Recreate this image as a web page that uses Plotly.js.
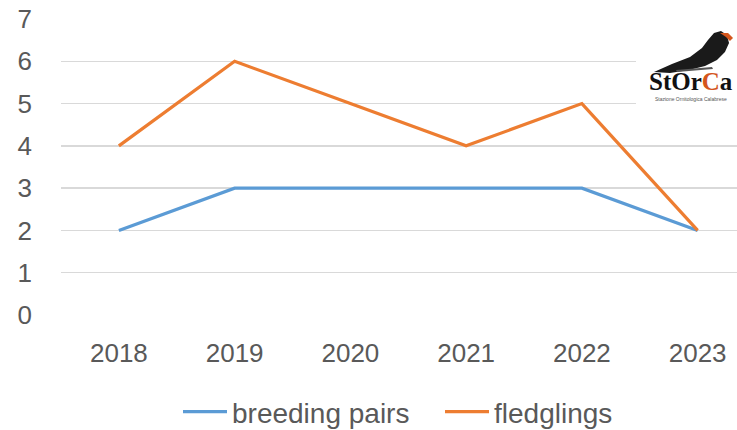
<!DOCTYPE html>
<html>
<head>
<meta charset="utf-8">
<script src="https://cdn.plot.ly/plotly-3.0.1.min.js"></script>
<style>html,body{margin:0;padding:0;background:#fff}#chart{width:737px;height:430px}</style>
</head>
<body>
<div id="chart"></div>
<script>
const years = ['2018', '2019', '2020', '2021', '2022', '2023'];
const breedingPairs = [2, 3, 3, 3, 3, 2];
const fledglings = [4, 6, 5, 4, 5, 2];
const seriesNames = ['breeding pairs', 'fledglings'];

const W = 737, H = 430, L = 61, R = 0, T = 19, B = 115;
const pw = W - L - R, ph = H - T - B;
const px = x => (x - L) / pw;
const py = y => (H - B - y) / ph;
function path(pts) {
  return 'M' + pts.map(p => px(p[0]).toFixed(4) + ',' + py(p[1]).toFixed(4)).join(' L') + ' Z';
}

const textColor = '#595959';
const font = 'Liberation Sans, Arial, sans-serif';

const traces = [
  {x: years, y: breedingPairs, name: seriesNames[0], type: 'scatter', mode: 'lines',
   line: {color: '#5B9BD5', width: 3.2}},
  {x: years, y: fledglings, name: seriesNames[1], type: 'scatter', mode: 'lines',
   line: {color: '#ED7D31', width: 3.2}}
];

const layout = {
  width: W, height: H,
  margin: {l: L, r: R, t: T, b: B, autoexpand: false},
  paper_bgcolor: '#fff', plot_bgcolor: '#fff',
  font: {family: font, color: textColor, size: 26},
  showlegend: true,
  legend: {orientation: 'h', x: px(178), xanchor: 'left', y: py(412), yanchor: 'middle',
           font: {size: 28, color: textColor}, itemwidth: 44, entrywidth: 203, traceorder: 'normal'},
  xaxis: {type: 'category', range: [-0.5, 5.34], showgrid: false, zeroline: false,
          showline: false, ticks: '', ticklabelstandoff: 20,
          tickfont: {size: 26, color: textColor}, fixedrange: true},
  yaxis: {range: [0, 7], dtick: 1, tick0: 0, showgrid: true, gridcolor: '#d9d9d9', gridwidth: 1.3,
          zeroline: false, showline: false, ticks: '', ticklabelstandoff: 28,
          tickfont: {size: 26, color: textColor}, fixedrange: true},
  shapes: [
    {type: 'rect', xref: 'paper', yref: 'paper', x0: px(636), x1: px(737), y0: py(110), y1: py(16),
     fillcolor: '#ffffff', line: {width: 0}, layer: 'above'},
    {type: 'path', xref: 'paper', yref: 'paper', layer: 'above',
     path: path([[654,72],[672,64],[690,57],[702,48],[708,40],[714,33],[721,31],[727,35],[729,43],[725,52],[717,60],[705,66],[689,70],[670,73]]),
     fillcolor: '#1a1a1a', line: {width: 0}},
    {type: 'path', xref: 'paper', yref: 'paper', layer: 'above',
     path: path([[720,33],[728,33],[733,38],[730,41],[726,37]]),
     fillcolor: '#d4561d', line: {width: 0}},
    {type: 'path', xref: 'paper', yref: 'paper', layer: 'above',
     path: path([[676,70],[712,67],[713,69],[677,72]]),
     fillcolor: '#555555', line: {width: 0}}
  ],
  annotations: [
    {xref: 'paper', yref: 'paper', x: px(691), y: py(81), xanchor: 'center', yanchor: 'middle',
     text: 'StOr<span style="color:#d4561d">C</span>a', showarrow: false,
     font: {family: 'Liberation Serif, DejaVu Serif, serif', size: 25, color: '#111111', weight: 700}},
    {xref: 'paper', yref: 'paper', x: px(691), y: py(99), xanchor: 'center', yanchor: 'middle',
     text: 'Stazione Ornitologica Calabrese', showarrow: false,
     font: {family: 'Liberation Sans, sans-serif', size: 5, color: '#555555'}}
  ]
};

Plotly.newPlot('chart', traces, layout, {displayModeBar: false, staticPlot: true});
</script>
</body>
</html>
